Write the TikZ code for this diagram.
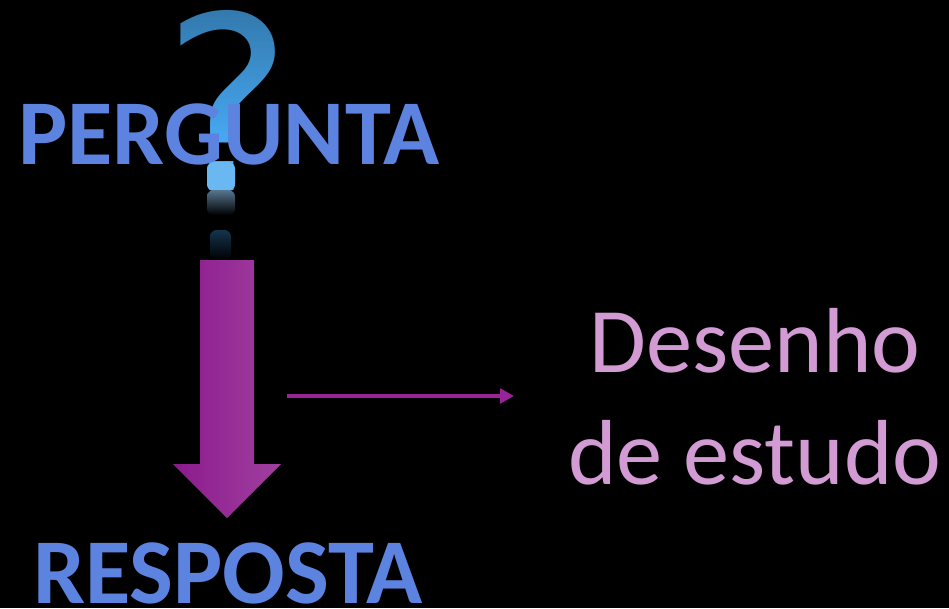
\documentclass[tikz,border=0pt]{standalone}
\usepackage{fontspec}
\setmainfont{Carlito}
\newfontfamily\markfont{DejaVu Sans}
\usetikzlibrary{arrows.meta,fadings}

\definecolor{titleblue}{HTML}{5B83DF}
\definecolor{studypink}{HTML}{D39BD3}
\definecolor{arrowleft}{HTML}{8C1A8C}
\definecolor{arrowpurple}{HTML}{982498}
\definecolor{arrowright}{HTML}{A040A0}
\definecolor{markblue}{HTML}{48ABF5}
\definecolor{dotblue}{HTML}{6AB8F2}
\definecolor{echoblue}{HTML}{56768F}
\definecolor{stemblue}{HTML}{14344C}

\begin{document}
\begin{tikzpicture}[%
    x=0.75pt,y=-0.75pt,
    title/.style={%
      inner sep=0pt,                          % tight box
      text=titleblue,                         % blue writing
      font=\fontsize{69.5}{69.5}\selectfont\bfseries
    },
    study/.style={%
      inner sep=0pt,
      text=studypink,
      font=\fontsize{69.3}{69.3}\selectfont   % plain writing
    },
    querymark/.style={%
      inner sep=0pt,
      text=markblue,
      font=\fontsize{182}{182}\markfont
    },
    pointer/.style={%
      -{Triangle[length=10.5pt,width=11pt]},  % flat backed head
      draw=arrowpurple,
      line width=2.6pt
    },
    echo/.style={%
      rounded corners=5pt,
      top color=#1,
      bottom color=black
    }
]
    % page
    \fill[black] (0,0) rectangle (949,608);
    \useasboundingbox (0,0) rectangle (949,608);

    % question mark, darkened towards the top, and its reflections
    \node at (228,100) [querymark] (question) {?};
    \fill[black,fill opacity=0.3,path fading=south] (150,5) rectangle (300,145);
    \fill[black] (200,146) rectangle (245,161);
    \fill[rounded corners=5pt,fill=dotblue] (207,162) rectangle (235,191);
    \shade[echo=echoblue] (207,190) rectangle (235,215);
    \shade[echo=stemblue] (210,230) rectangle (231,260);

    % big arrow
    \shade[left color=arrowleft,middle color=arrowpurple,right color=arrowright]
      (200,260) -- (254,260) -- (254,464) -- (281,464)
      -- (227,518) -- (173,464) -- (200,464) -- cycle;

    % nodes
    \node at (229,134) [title] (pergunta) {PERGUNTA};
    \node at (228,573) [title] (resposta) {RESPOSTA};
    \node at (755,341) [study] (desenho)  {Desenho};
    \node at (755,453) [study] (estudo)   {de estudo};

    % connection
    \coordinate (pointerstart) at (287,396);
    \coordinate (pointerend)   at (514,396);
    \draw[pointer] (pointerstart) -- (pointerend);
\end{tikzpicture}
\end{document}
